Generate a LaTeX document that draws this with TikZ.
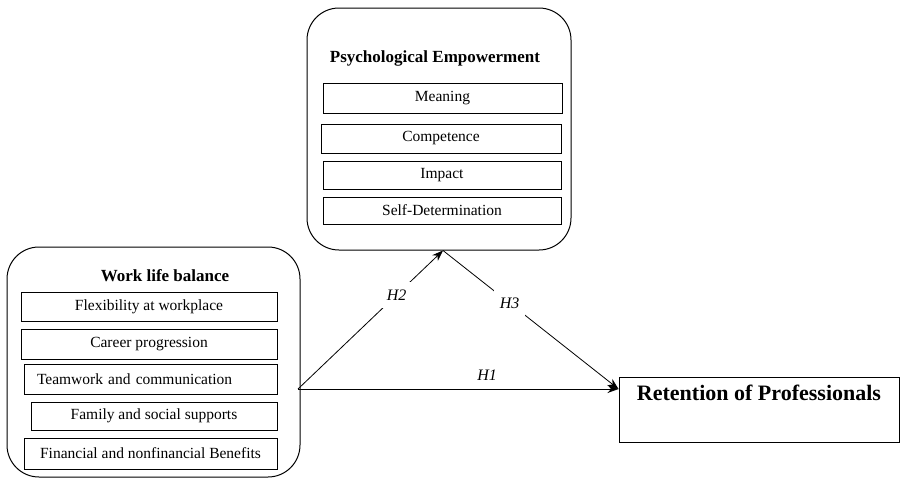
\documentclass[tikz,border=0pt]{standalone}
\usepackage{fontspec}
\setmainfont{Liberation Serif}
\usetikzlibrary{arrows.meta, positioning, calc}
\tikzset{
	group/.style     ={rectangle, rounded corners=32pt, draw=black, line width=1pt, inner sep=0pt},
	grouptitle/.style={font=\fontsize{17}{20}\selectfont\bfseries, inner sep=0pt},
	item/.style      ={rectangle, draw=black, line width=1pt, inner sep=0pt, font=\fontsize{15.5}{18}\selectfont},
	outcome/.style   ={rectangle, draw=black, line width=1pt, inner sep=0pt, font=\fontsize{22}{26}\selectfont\bfseries},
	hyp/.style       ={-{Stealth[length=11pt, width=8pt]}, line width=0.8pt},
	hlabel/.style    ={font=\fontsize{16}{18}\selectfont\itshape, fill=white, inner sep=0pt, minimum width=31pt, minimum height=26pt},
}
\begin{document}
\begin{tikzpicture}[x=1pt, y=-1pt]
	\useasboundingbox (0,0) rectangle (902,485);
	% mediator
	\node[group, minimum width=264pt, minimum height=242pt] (pe) at (439,129) {};
	\node[grouptitle] (pet) at (435,58) {Psychological Empowerment};
	\node[item, minimum width=239pt, minimum height=30pt] (mean) at (442.5,98) {Meaning};
	\node[item, minimum width=240pt, minimum height=29pt, below=10pt of mean, xshift=-1.5pt] (comp) {Competence};
	\node[item, minimum width=238pt, minimum height=28pt, below=7pt of comp, xshift=1pt] (imp) {Impact};
	\node[item, minimum width=238pt, minimum height=27pt, below=7pt of imp] (sdet) {Self-Determination};
	% independent variable
	\node[group, minimum width=293pt, minimum height=230pt] (wlb) at (153.5,362) {};
	\node[grouptitle] (wlbt) at (165,276) {Work life balance};
	\node[item, minimum width=256pt, minimum height=29pt] (flex) at (149,306.5) {Flexibility at workplace};
	\node[item, minimum width=256pt, minimum height=30pt, below=7pt of flex] (car) {Career progression};
	\node[item, text width=227pt, align=left, inner xsep=13pt, minimum height=30pt, below=4pt of car, xshift=1.5pt] (team) {Teamwork and communication};
	\node[item, minimum width=246pt, minimum height=28pt, below=7pt of team, xshift=3.5pt] (fam) {Family and social supports};
	\node[item, minimum width=253pt, minimum height=31pt, below=7pt of fam, xshift=-3.5pt] (fin) {Financial and nonfinancial Benefits};
	% outcome
	\node[outcome, minimum width=280pt, text height=23pt, text depth=42pt] (ret) at (759,409.5) {Retention of Professionals};
	% paths
	\coordinate (src) at (298,389);
	\coordinate (tgt) at (ret.west |- src);
	\coordinate (apex) at ([xshift=4pt]pe.south);
	\draw[hyp] (src) -- node[pos=0.59, above=5pt, font=\fontsize{16}{18}\selectfont\itshape] (h1) {H1} (tgt);
	\draw[hyp] (src) -- node[hlabel, pos=0.68] (h2) {H2} (apex);
	\draw[hyp] (apex) -- node[hlabel, pos=0.38] (h3) {H3} (tgt);
\end{tikzpicture}
\end{document}
